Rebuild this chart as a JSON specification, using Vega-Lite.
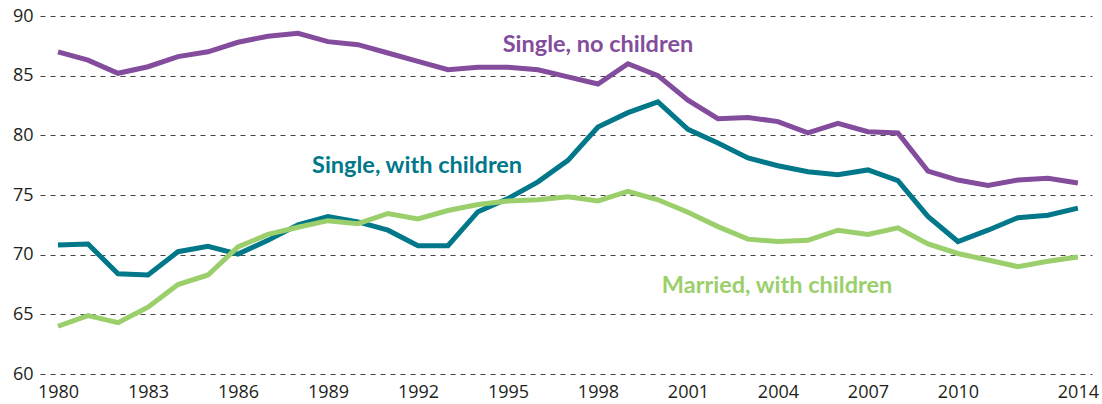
{
  "$schema": "https://vega.github.io/schema/vega-lite/v6.json",
  "width": 1052,
  "height": 358,
  "autosize": {"type": "none"},
  "padding": {"left": 40, "top": 16, "right": 10, "bottom": 30},
  "background": "white",
  "config": {"view": {"stroke": null}, "font": "Lato"},
  "datasets": {
    "series": [
      {"year": 1980, "group": "Single, no children", "value": 87.0},
      {"year": 1981, "group": "Single, no children", "value": 86.3},
      {"year": 1982, "group": "Single, no children", "value": 85.2},
      {"year": 1983, "group": "Single, no children", "value": 85.75},
      {"year": 1984, "group": "Single, no children", "value": 86.6},
      {"year": 1985, "group": "Single, no children", "value": 87.0},
      {"year": 1986, "group": "Single, no children", "value": 87.8},
      {"year": 1987, "group": "Single, no children", "value": 88.3},
      {"year": 1988, "group": "Single, no children", "value": 88.55},
      {"year": 1989, "group": "Single, no children", "value": 87.85},
      {"year": 1990, "group": "Single, no children", "value": 87.6},
      {"year": 1991, "group": "Single, no children", "value": 86.9},
      {"year": 1992, "group": "Single, no children", "value": 86.2},
      {"year": 1993, "group": "Single, no children", "value": 85.5},
      {"year": 1994, "group": "Single, no children", "value": 85.7},
      {"year": 1995, "group": "Single, no children", "value": 85.7},
      {"year": 1996, "group": "Single, no children", "value": 85.5},
      {"year": 1997, "group": "Single, no children", "value": 84.9},
      {"year": 1998, "group": "Single, no children", "value": 84.3},
      {"year": 1999, "group": "Single, no children", "value": 86.0},
      {"year": 2000, "group": "Single, no children", "value": 85.0},
      {"year": 2001, "group": "Single, no children", "value": 82.95},
      {"year": 2002, "group": "Single, no children", "value": 81.4},
      {"year": 2003, "group": "Single, no children", "value": 81.5},
      {"year": 2004, "group": "Single, no children", "value": 81.15},
      {"year": 2005, "group": "Single, no children", "value": 80.2},
      {"year": 2006, "group": "Single, no children", "value": 81.0},
      {"year": 2007, "group": "Single, no children", "value": 80.3},
      {"year": 2008, "group": "Single, no children", "value": 80.2},
      {"year": 2009, "group": "Single, no children", "value": 77.0},
      {"year": 2010, "group": "Single, no children", "value": 76.25},
      {"year": 2011, "group": "Single, no children", "value": 75.8},
      {"year": 2012, "group": "Single, no children", "value": 76.25},
      {"year": 2013, "group": "Single, no children", "value": 76.4},
      {"year": 2014, "group": "Single, no children", "value": 76.0},
      {"year": 1980, "group": "Single, with children", "value": 70.8},
      {"year": 1981, "group": "Single, with children", "value": 70.9},
      {"year": 1982, "group": "Single, with children", "value": 68.4},
      {"year": 1983, "group": "Single, with children", "value": 68.3},
      {"year": 1984, "group": "Single, with children", "value": 70.25},
      {"year": 1985, "group": "Single, with children", "value": 70.7},
      {"year": 1986, "group": "Single, with children", "value": 70.05},
      {"year": 1987, "group": "Single, with children", "value": 71.2},
      {"year": 1988, "group": "Single, with children", "value": 72.5},
      {"year": 1989, "group": "Single, with children", "value": 73.2},
      {"year": 1990, "group": "Single, with children", "value": 72.75},
      {"year": 1991, "group": "Single, with children", "value": 72.05},
      {"year": 1992, "group": "Single, with children", "value": 70.75},
      {"year": 1993, "group": "Single, with children", "value": 70.75},
      {"year": 1994, "group": "Single, with children", "value": 73.6},
      {"year": 1995, "group": "Single, with children", "value": 74.7},
      {"year": 1996, "group": "Single, with children", "value": 76.1},
      {"year": 1997, "group": "Single, with children", "value": 77.9},
      {"year": 1998, "group": "Single, with children", "value": 80.7},
      {"year": 1999, "group": "Single, with children", "value": 81.9},
      {"year": 2000, "group": "Single, with children", "value": 82.8},
      {"year": 2001, "group": "Single, with children", "value": 80.5},
      {"year": 2002, "group": "Single, with children", "value": 79.35},
      {"year": 2003, "group": "Single, with children", "value": 78.1},
      {"year": 2004, "group": "Single, with children", "value": 77.45},
      {"year": 2005, "group": "Single, with children", "value": 76.95},
      {"year": 2006, "group": "Single, with children", "value": 76.7},
      {"year": 2007, "group": "Single, with children", "value": 77.1},
      {"year": 2008, "group": "Single, with children", "value": 76.2},
      {"year": 2009, "group": "Single, with children", "value": 73.2},
      {"year": 2010, "group": "Single, with children", "value": 71.1},
      {"year": 2011, "group": "Single, with children", "value": 72.05},
      {"year": 2012, "group": "Single, with children", "value": 73.1},
      {"year": 2013, "group": "Single, with children", "value": 73.3},
      {"year": 2014, "group": "Single, with children", "value": 73.9},
      {"year": 1980, "group": "Married, with children", "value": 64.0},
      {"year": 1981, "group": "Married, with children", "value": 64.9},
      {"year": 1982, "group": "Married, with children", "value": 64.3},
      {"year": 1983, "group": "Married, with children", "value": 65.6},
      {"year": 1984, "group": "Married, with children", "value": 67.5},
      {"year": 1985, "group": "Married, with children", "value": 68.3},
      {"year": 1986, "group": "Married, with children", "value": 70.65},
      {"year": 1987, "group": "Married, with children", "value": 71.7},
      {"year": 1988, "group": "Married, with children", "value": 72.3},
      {"year": 1989, "group": "Married, with children", "value": 72.85},
      {"year": 1990, "group": "Married, with children", "value": 72.6},
      {"year": 1991, "group": "Married, with children", "value": 73.45},
      {"year": 1992, "group": "Married, with children", "value": 73.0},
      {"year": 1993, "group": "Married, with children", "value": 73.7},
      {"year": 1994, "group": "Married, with children", "value": 74.2},
      {"year": 1995, "group": "Married, with children", "value": 74.5},
      {"year": 1996, "group": "Married, with children", "value": 74.6},
      {"year": 1997, "group": "Married, with children", "value": 74.85},
      {"year": 1998, "group": "Married, with children", "value": 74.5},
      {"year": 1999, "group": "Married, with children", "value": 75.3},
      {"year": 2000, "group": "Married, with children", "value": 74.6},
      {"year": 2001, "group": "Married, with children", "value": 73.55},
      {"year": 2002, "group": "Married, with children", "value": 72.35},
      {"year": 2003, "group": "Married, with children", "value": 71.3},
      {"year": 2004, "group": "Married, with children", "value": 71.1},
      {"year": 2005, "group": "Married, with children", "value": 71.2},
      {"year": 2006, "group": "Married, with children", "value": 72.05},
      {"year": 2007, "group": "Married, with children", "value": 71.7},
      {"year": 2008, "group": "Married, with children", "value": 72.25},
      {"year": 2009, "group": "Married, with children", "value": 70.9},
      {"year": 2010, "group": "Married, with children", "value": 70.1},
      {"year": 2011, "group": "Married, with children", "value": 69.55},
      {"year": 2012, "group": "Married, with children", "value": 69.0},
      {"year": 2013, "group": "Married, with children", "value": 69.45},
      {"year": 2014, "group": "Married, with children", "value": 69.8}
    ],
    "labels": [
      {"year": 1998.0, "value": 87.0, "group": "Single, no children"},
      {"year": 1991.97, "value": 76.84, "group": "Single, with children"},
      {"year": 2003.97, "value": 66.78, "group": "Married, with children"}
    ]
  },
  "layer": [
    {
      "data": {"name": "series"},
      "mark": {"type": "line", "strokeWidth": 5, "strokeJoin": "miter", "strokeCap": "butt"},
      "encoding": {
        "x": {
          "field": "year", "type": "quantitative",
          "scale": {"domain": [1979.4, 2014.47], "nice": false, "zero": false},
          "axis": {
            "title": null, "values": [1980, 1983, 1986, 1989, 1992, 1995, 1998, 2001, 2004, 2007, 2010, 2014],
            "format": "d", "grid": false, "domain": false, "ticks": false,
            "labelFontSize": 18, "labelColor": "#231f20", "labelPadding": 9, "labelFont": "Open Sans"
          }
        },
        "y": {
          "field": "value", "type": "quantitative",
          "scale": {"domain": [60, 90], "nice": false, "zero": false},
          "axis": {
            "title": null, "values": [60, 65, 70, 75, 80, 85, 90],
            "domain": false, "ticks": false, "grid": true,
            "gridDash": [5, 5], "gridColor": "#444444", "gridWidth": 1,
            "labelFontSize": 18, "labelColor": "#231f20", "labelPadding": 7, "labelFont": "Open Sans"
          }
        },
        "color": {
          "field": "group", "type": "nominal",
          "scale": {"domain": ["Single, no children", "Single, with children", "Married, with children"], "range": ["#834c9d", "#00788a", "#9bcf6b"]},
          "legend": null
        },
        "detail": {"field": "group"}
      }
    },
    {
      "data": {"name": "labels"},
      "mark": {"type": "text", "fontSize": 23.5, "fontWeight": "bold", "font": "Lato", "align": "center", "baseline": "alphabetic"},
      "encoding": {
        "x": {"field": "year", "type": "quantitative"},
        "y": {"field": "value", "type": "quantitative"},
        "text": {"field": "group"},
        "color": {"field": "group", "type": "nominal", "legend": null}
      }
    }
  ]
}
